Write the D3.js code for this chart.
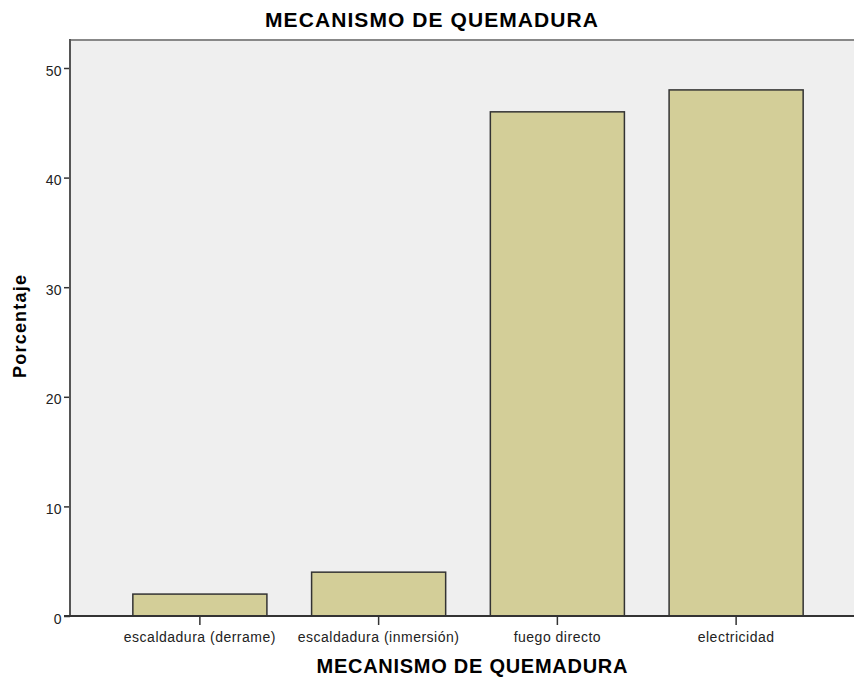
<!DOCTYPE html>
<html>
    <head>
        <meta charset="utf-8">
        <script src="https://cdn.jsdelivr.net/npm/d3@7"></script>
        <style>
            body { margin: 0; background: #fff; }
            text { font-family: "Liberation Sans", Arial, sans-serif; }
        </style>
    </head>
    <body>
        <svg id="chart" width="854" height="679"></svg>
        <script>
            // Data
            var categories = ["escaldadura (derrame)", "escaldadura (inmersión)", "fuego directo", "electricidad"];
            var percents = [2, 4, 46, 48];
            var yTicks = [0, 10, 20, 30, 40, 50];

            var svg = d3.select("svg#chart");
            var plot = {left: 70, right: 854, top: 40, bottom: 616};

            var x = d3.scaleBand().domain(categories).range([110.5, 825.5]).paddingInner(0.25).paddingOuter(0.125);
            var y = d3.scaleLinear().domain([0, 50]).range([plot.bottom, 68]);

            // plot background + frame
            svg.append("rect").attr("x", plot.left).attr("y", plot.top)
                .attr("width", plot.right - plot.left).attr("height", plot.bottom - plot.top)
                .attr("fill", "#efefef");
            svg.append("line").attr("x1", plot.left).attr("x2", plot.right).attr("y1", plot.top).attr("y2", plot.top)
                .attr("stroke", "#888").attr("stroke-width", 2);

            // bars
            svg.append("g").selectAll("rect").data(categories).enter().append("rect")
                .attr("x", function(d) { return x(d); })
                .attr("y", function(d, i) { return y(percents[i]); })
                .attr("width", x.bandwidth())
                .attr("height", function(d, i) { return y(0) - y(percents[i]); })
                .attr("fill", "#d3ce98").attr("stroke", "#333").attr("stroke-width", 1.5);

            // axes
            var yAxis = d3.axisLeft(y).tickValues(yTicks).tickSize(6).tickPadding(2).tickSizeOuter(0);
            var gy = svg.append("g").attr("transform", "translate(" + plot.left + ",0)").call(yAxis);
            gy.select(".domain").remove();
            gy.selectAll("line").attr("stroke", "#333").attr("stroke-width", 1.5);
            gy.selectAll("text").attr("dy", "0.5em").style("font-size", "14px").style("letter-spacing", "0.4px").attr("fill", "#222");
            svg.append("line").attr("x1", plot.left).attr("x2", plot.left).attr("y1", plot.top - 1).attr("y2", plot.bottom)
                .attr("stroke", "#555").attr("stroke-width", 2);

            var xAxis = d3.axisBottom(x).tickSize(9).tickSizeOuter(0);
            var gx = svg.append("g").attr("transform", "translate(0," + plot.bottom + ")").call(xAxis);
            gx.select(".domain").remove();
            gx.selectAll("line").attr("stroke", "#333").attr("stroke-width", 1.5);
            gx.selectAll("text").attr("y", 16).style("font-size", "14px").style("letter-spacing", "0.5px").attr("fill", "#222");
            svg.append("line").attr("x1", plot.left - 6).attr("x2", plot.right).attr("y1", plot.bottom).attr("y2", plot.bottom)
                .attr("stroke", "#333").attr("stroke-width", 2);

            // titles
            svg.append("text").attr("x", 431.5).attr("y", 27).attr("text-anchor", "middle")
                .attr("textLength", 333).attr("lengthAdjust", "spacing")
                .style("font-size", "21px").style("font-weight", "bold").text("MECANISMO DE QUEMADURA");
            svg.append("text").attr("x", 472).attr("y", 673).attr("text-anchor", "middle")
                .attr("textLength", 311).attr("lengthAdjust", "spacing")
                .style("font-size", "20px").style("font-weight", "bold").text("MECANISMO DE QUEMADURA");
            svg.append("text").attr("transform", "translate(26,326.5) rotate(-90)").attr("text-anchor", "middle")
                .attr("textLength", 103).attr("lengthAdjust", "spacing")
                .style("font-size", "18px").style("font-weight", "bold").text("Porcentaje");
        </script>
    </body>
</html>
